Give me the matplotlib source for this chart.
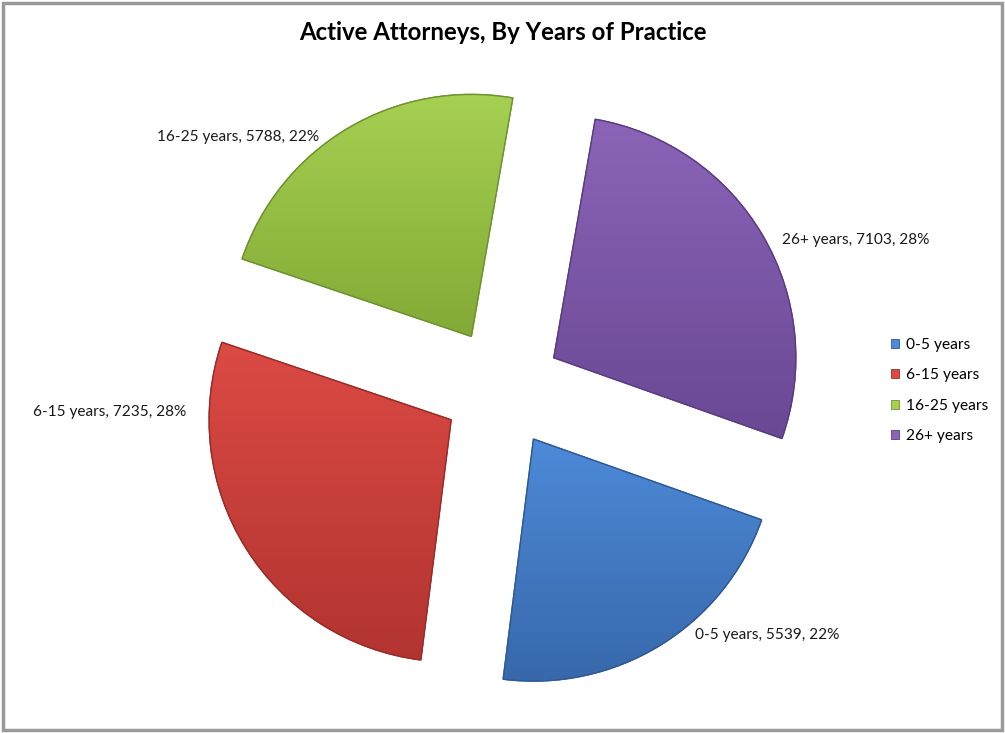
import numpy as np
import matplotlib
matplotlib.use("Agg")
import matplotlib.pyplot as plt
from matplotlib.colors import LinearSegmentedColormap
from matplotlib.patches import Rectangle, Wedge

# ---- data ----
categories = ["0-5 years", "6-15 years", "16-25 years", "26+ years"]
counts = [5539, 7235, 5788, 7103]
pct_labels = ["22%", "28%", "22%", "28%"]

# ---- style ----
top_colors = ["#4d8ad8", "#dc4a44", "#a6d052", "#8b64b8"]
bot_colors = ["#3868ab", "#b23430", "#82aa36", "#6a4894"]
edge_colors = ["#2f5a94", "#9a2c28", "#6e9230", "#5a3d80"]
label_pos = [(767, 635), (110, 412), (238, 137), (856, 240)]  # pixel anchors (top-origin)

plt.rcParams['font.family'] = ['Lato', 'DejaVu Sans']

W, H = 1005, 733
fig = plt.figure(figsize=(W / 100, H / 100), dpi=100)
ax = fig.add_axes([0, 0, 1, 1])

cx, cy = 502, H - 388
R = 242
wedges, _ = ax.pie(counts, startangle=-19.5, counterclock=False,
                   explode=[60] * 4, radius=R, center=(cx, cy),
                   frame=True, wedgeprops=dict(linewidth=1.0))
ax.set_xlim(0, W)
ax.set_ylim(0, H)
ax.axis('off')

for i, w in enumerate(wedges):
    w.set_facecolor(top_colors[i])
    w.set_edgecolor(edge_colors[i])
    ext = w.get_path().get_extents(w.get_transform() + ax.transData.inverted())
    cmap = LinearSegmentedColormap.from_list("g%d" % i, [bot_colors[i], top_colors[i]])
    grad = np.linspace(0, 1, 256).reshape(-1, 1)
    im = ax.imshow(grad, cmap=cmap, origin='lower', aspect='auto',
                   extent=(ext.x0, ext.x1, ext.y0, ext.y1), zorder=w.get_zorder() + 0.1)
    im.set_clip_path(w)
    w2 = Wedge((w.center[0], w.center[1]), w.r, w.theta1, w.theta2,
               facecolor='none', edgecolor=edge_colors[i],
               linewidth=1.0, zorder=w.get_zorder() + 0.2)
    ax.add_patch(w2)

ax.set_xlim(0, W)
ax.set_ylim(0, H)

for i, cat in enumerate(categories):
    x, y = label_pos[i]
    ax.text(x, H - y, f"{cat}, {counts[i]}, {pct_labels[i]}", ha='center', va='center',
            fontsize=11.1, color='#1a1a1a')

# title
ax.text(W / 2, H - 32, "Active Attorneys, By Years of Practice", ha='center', va='center',
        fontsize=17.3, fontweight='bold', color='black')

# legend
handles = [Rectangle((0, 0), 1, 1, facecolor=top_colors[i], edgecolor=edge_colors[i], linewidth=0.6)
           for i in range(len(categories))]
leg = fig.legend(handles, categories, loc='upper left', bbox_to_anchor=(891 / W, 1 - 338 / H),
                 frameon=False, fontsize=11.2, handlelength=0.5, handleheight=0.5,
                 handletextpad=0.45, labelspacing=1.05, borderpad=0, borderaxespad=0)

# outer border
fig.patches.append(Rectangle((3 / W, 3 / H), (W - 6) / W, (H - 6) / H, transform=fig.transFigure,
                             facecolor='none', edgecolor='#9a9a9a', linewidth=2.5))

fig.savefig("out.png", dpi=100)
